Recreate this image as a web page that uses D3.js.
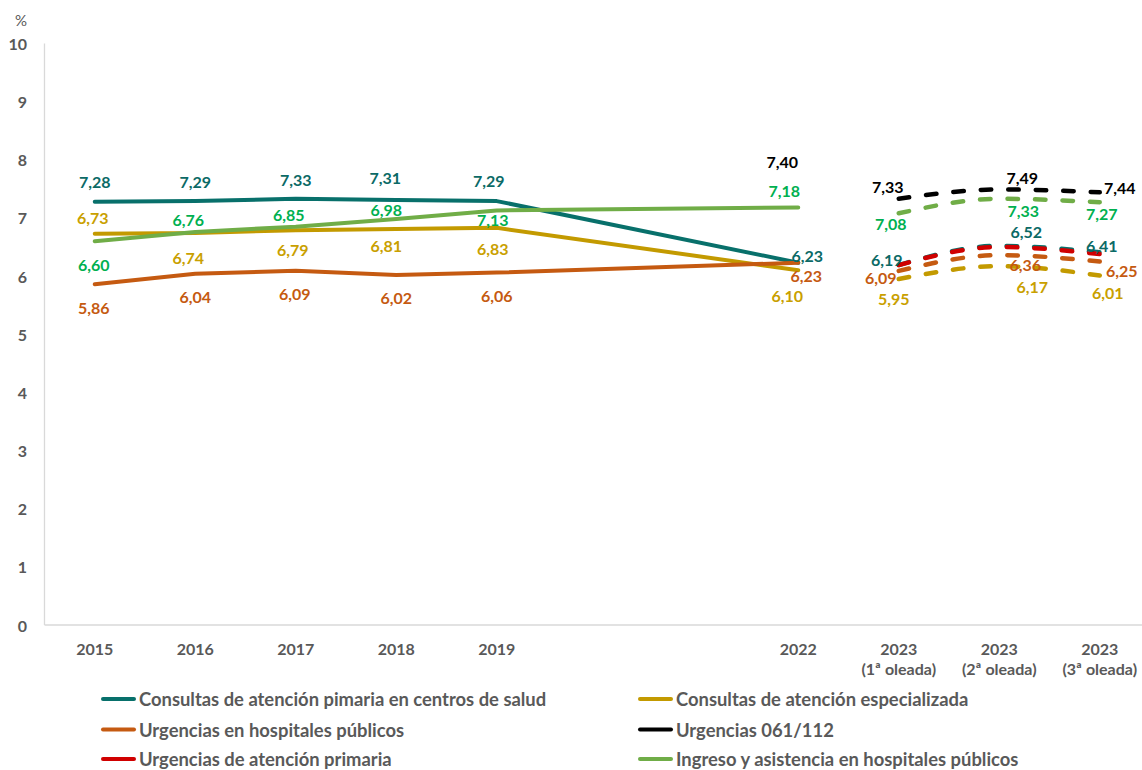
<!DOCTYPE html>
<html lang="es">
<head>
  <meta charset="UTF-8">
  <style>
    body { margin: 0; overflow: hidden; background: #fff; }
    svg { display: block; font-family: Lato, "Open Sans", sans-serif; }
    .axis-line { stroke: #d9d9d9; stroke-width: 1.3; }
    .tick-label { fill: #595959; font-size: 16px; font-weight: bold; }
    .data-label { font-size: 16px; font-weight: bold; }
    .legend-label { fill: #595959; font-size: 18.4px; font-weight: bold; }
  </style>
  <script src="https://cdn.jsdelivr.net/npm/d3@7"></script>
</head>
<body>
<svg id="chart"></svg>
<script>
  // categories on the x axis (2020 and 2021 are empty slots)
  const categories = ["2015", "2016", "2017", "2018", "2019", "2020", "2021", "2022",
    "2023 (1ª oleada)", "2023 (2ª oleada)", "2023 (3ª oleada)"];
  const tickLabels = [["2015"], ["2016"], ["2017"], ["2018"], ["2019"], [""], [""], ["2022"],
    ["2023", "(1ª oleada)"], ["2023", "(2ª oleada)"], ["2023", "(3ª oleada)"]];
  const years = ["2015", "2016", "2017", "2018", "2019", "2022"];
  const waves = ["2023 (1ª oleada)", "2023 (2ª oleada)", "2023 (3ª oleada)"];
  const yTicks = [0, 1, 2, 3, 4, 5, 6, 7, 8, 9, 10];

  const primariaAnual = [7.28, 7.29, 7.33, 7.31, 7.29, 6.23];
  const primariaOleadas = [6.19, 6.52, 6.41];
  const especializadaAnual = [6.73, 6.74, 6.79, 6.81, 6.83, 6.10];
  const especializadaOleadas = [5.95, 6.17, 6.01];
  const urgHospAnual = [5.86, 6.04, 6.09, 6.02, 6.06, 6.23];
  const urgHospOleadas = [6.09, 6.36, 6.25];
  const urg061Anual = [null, null, null, null, null, 7.40];
  const urg061Oleadas = [7.33, 7.49, 7.44];
  const urgAPAnual = [null, null, null, null, null, null];
  const urgAPOleadas = [6.19, 6.50, 6.38];
  const ingresoAnual = [6.60, 6.76, 6.85, 6.98, 7.13, 7.18];
  const ingresoOleadas = [7.08, 7.33, 7.27];

  const seriesNames = [
    "Consultas de atención pimaria en centros de salud",
    "Consultas de atención especializada",
    "Urgencias en hospitales públicos",
    "Urgencias 061/112",
    "Urgencias de atención primaria",
    "Ingreso y asistencia en hospitales públicos"
  ];

  // label placement (dx, dy from the point), annual points then waves
  const labelOffsets = [
    [[0,-20],[0,-20],[0,-19.5],[-11,-22],[-8,-21],[9,-7], [-12,-6],[27,-14],[2,-7]],
    [[-2,-16],[-7,24],[-3,19],[-10,17],[-4,21],[-11,25], [-5,19],[33,20],[8,17]],
    [[-1,23],[0,23],[-1,23],[0,23],[0,23],[8,13], [-18,7],[26,9],[22,9]],
    [null,null,null,null,null,[-16,-33], [-11,-12],[23,-12],[20,-5]],
    null,
    [[-1,23],[-7,-12],[-7,-12],[-10,-10],[-4,9],[-14,-17], [-8,10],[24,12],[2,11]]
  ];

  const lineColors = ["#08706b", "#c39a00", "#c55a11", "#000000", "#d00000", "#70ad47"];
  const labelColors = ["#0b6a66", "#c9a000", "#c55a11", "#000000", "#d00000", "#00b050"];

  const anualValues = [primariaAnual, especializadaAnual, urgHospAnual, urg061Anual, urgAPAnual, ingresoAnual];
  const oleadaValues = [primariaOleadas, especializadaOleadas, urgHospOleadas, urg061Oleadas, urgAPOleadas, ingresoOleadas];

  const series = seriesNames.map((name, i) => ({
    name: name,
    anual: years.map((c, j) => ({ cat: c, v: anualValues[i][j], o: labelOffsets[i] && labelOffsets[i][j] })),
    oleadas: waves.map((c, j) => ({ cat: c, v: oleadaValues[i][j], o: labelOffsets[i] && labelOffsets[i][6 + j] }))
  }));

  const width = 1142, height = 770;
  const svg = d3.select("#chart").attr("width", width).attr("height", height);

  const x = d3.scaleBand().domain(categories).range([44.5, 1150]).paddingInner(0).paddingOuter(0);
  const cx = c => x(c) + x.bandwidth() / 2;
  const y = d3.scaleLinear().domain([0, 10]).range([625, 43.5]);

  // axes
  svg.append("line").attr("class", "axis-line")
    .attr("x1", 44.5).attr("x2", 44.5).attr("y1", y(10)).attr("y2", y(0));
  svg.append("line").attr("class", "axis-line")
    .attr("x1", 44.5).attr("x2", 1150).attr("y1", y(0)).attr("y2", y(0));

  svg.selectAll(".ytick").data(yTicks).enter().append("text")
    .attr("class", "tick-label")
    .attr("x", 27).attr("y", d => y(d))
    .attr("text-anchor", "end").attr("dominant-baseline", "central")
    .text(d => d);

  svg.append("text").attr("x", 21).attr("y", 20)
    .attr("text-anchor", "middle").attr("dominant-baseline", "central")
    .attr("fill", "#595959").style("font-size", "15px").text("%");

  categories.forEach((c, i) => {
    const t = svg.append("text").attr("class", "tick-label")
      .attr("x", cx(c)).attr("y", 648)
      .attr("text-anchor", "middle").attr("dominant-baseline", "central");
    tickLabels[i].forEach((s, k) => {
      t.append("tspan").attr("x", cx(c)).attr("dy", k === 0 ? 0 : 20).text(s);
    });
  });

  // solid yearly lines are straight, wave lines are smoothed
  const solidLine = d3.line()
    .x(d => cx(d.cat))
    .y(d => y(d.v));
  const waveLine = d3.line()
    .defined(d => d.v != null)
    .x(d => cx(d.cat))
    .y(d => y(d.v))
    .curve(d3.curveMonotoneX);

  const lines = svg.append("g");
  series.forEach((s, i) => {
    const solid = s.anual.filter(p => p.v != null);
    if (solid.length > 1) {
      lines.append("path").datum(solid)
        .attr("d", solidLine).attr("fill", "none")
        .attr("stroke", lineColors[i]).attr("stroke-width", 4)
        .attr("stroke-linecap", "round").attr("stroke-linejoin", "round");
    }
    lines.append("path").datum(s.oleadas)
      .attr("d", waveLine).attr("fill", "none")
      .attr("stroke", lineColors[i]).attr("stroke-width", 4.5)
      .attr("stroke-linecap", "round")
      .attr("stroke-dasharray", "10.5,17");
  });

  // data labels
  const labels = svg.append("g");
  series.forEach((s, i) => {
    const pts = s.anual.concat(s.oleadas).filter(p => p.v != null && p.o);
    labels.selectAll(null).data(pts).enter().append("text")
      .attr("class", "data-label")
      .attr("x", d => cx(d.cat) + d.o[0])
      .attr("y", d => y(d.v) + d.o[1])
      .attr("text-anchor", "middle").attr("dominant-baseline", "central")
      .attr("fill", labelColors[i])
      .text(d => d3.format(".2f")(d.v).replace(".", ","));
  });

  // legend, two columns
  const legendCols = [101, 638];
  const legendRows = [699, 729.5, 759];
  const legend = svg.append("g");
  seriesNames.forEach((n, i) => {
    const lx = legendCols[i % 2], ly = legendRows[Math.floor(i / 2)];
    legend.append("line")
      .attr("x1", lx + 2).attr("x2", lx + 33).attr("y1", ly).attr("y2", ly)
      .attr("stroke", lineColors[i]).attr("stroke-width", 4).attr("stroke-linecap", "round");
    legend.append("text").attr("class", "legend-label")
      .attr("x", lx + 38).attr("y", ly)
      .attr("dominant-baseline", "central").text(n);
  });
</script>
</body>
</html>
